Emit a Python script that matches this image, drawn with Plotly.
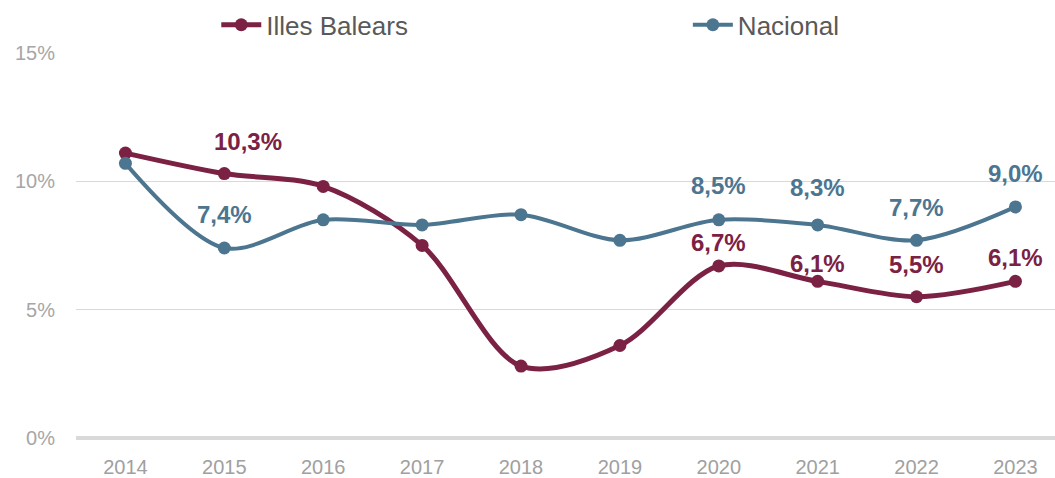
import plotly.graph_objects as go

years = ["2014", "2015", "2016", "2017", "2018", "2019", "2020", "2021", "2022", "2023"]
balears = [11.1, 10.3, 9.8, 7.5, 2.8, 3.6, 6.7, 6.1, 5.5, 6.1]
nacional = [10.7, 7.4, 8.5, 8.3, 8.7, 7.7, 8.5, 8.3, 7.7, 9.0]
balears_labeled = [False, True, False, False, False, False, True, True, True, True]
nacional_labeled = [False, True, False, False, False, False, True, True, True, True]
y_ticks = [0, 5, 10, 15]
y_tick_text = ["0%", "5%", "10%", "15%"]

# style
C_BAL = "#7B2143"
C_NAC = "#4C7590"
bal_shift = [0, 32, 0, 0, 0, 0, 23, 18, 32, 24]
bal_xshift = [0, 24, 0, 0, 0, 0, 0, 0, 0, 0]
nac_shift = [0, 34, 0, 0, 0, 0, 34, 37, 33, 33]

xi = list(range(len(years)))

fig = go.Figure()
fig.add_trace(go.Scatter(
    x=xi, y=balears, name="Illes Balears", mode="lines+markers",
    line=dict(color=C_BAL, width=5, shape="spline", smoothing=0.9),
    marker=dict(size=13, color=C_BAL), legend="legend",
))
fig.add_trace(go.Scatter(
    x=xi, y=nacional, name="Nacional", mode="lines+markers",
    line=dict(color=C_NAC, width=4, shape="spline", smoothing=0.9),
    marker=dict(size=13, color=C_NAC), legend="legend2",
))

def fmt(v):
    return f"{v:.1f}".replace(".", ",") + "%"

annotations = []
for i, (v, lab) in enumerate(zip(balears, balears_labeled)):
    if lab:
        annotations.append(dict(x=i, y=v, text=fmt(v), showarrow=False,
                                yshift=bal_shift[i], xshift=bal_xshift[i],
                                font=dict(family="Liberation Sans", size=24, color=C_BAL, weight="bold")))
for i, (v, lab) in enumerate(zip(nacional, nacional_labeled)):
    if lab:
        annotations.append(dict(x=i, y=v, text=fmt(v), showarrow=False,
                                yshift=nac_shift[i],
                                font=dict(family="Liberation Sans", size=24, color=C_NAC, weight="bold")))

leg_common = dict(orientation="h", xref="container", yref="container",
                  xanchor="left", yanchor="middle", itemwidth=40,
                  bgcolor="rgba(0,0,0,0)",
                  font=dict(family="Liberation Sans", size=26, color="#595959"))

fig.update_layout(
    width=1055, height=478,
    margin=dict(l=76, r=0, t=53, b=35),
    plot_bgcolor="white", paper_bgcolor="white",
    annotations=annotations,
    showlegend=True,
    legend=dict(x=0.205, y=0.948, **leg_common),
    legend2=dict(x=0.652, y=0.948, **leg_common),
    xaxis=dict(range=[-0.5, 9.4], tickvals=xi, ticktext=years,
               showgrid=False, zeroline=False, showline=False,
               tickfont=dict(family="Liberation Sans", size=20, color="#a0a0a0"),
               ticks="", ticklabelstandoff=10, automargin=False),
    yaxis=dict(range=[-0.2, 15], tickvals=y_ticks, ticktext=y_tick_text,
               showgrid=True, gridcolor="#d9d9d9", gridwidth=1,
               zeroline=True, zerolinecolor="#d9d9d9", zerolinewidth=4,
               showline=False, ticks="", ticklabelstandoff=20, automargin=False,
               tickfont=dict(family="Liberation Sans", size=20, color="#a6a6a6")),
)

fig.write_html("out.html", config={"displayModeBar": False},
               post_script="document.body.style.margin='0';document.body.style.padding='0';")
